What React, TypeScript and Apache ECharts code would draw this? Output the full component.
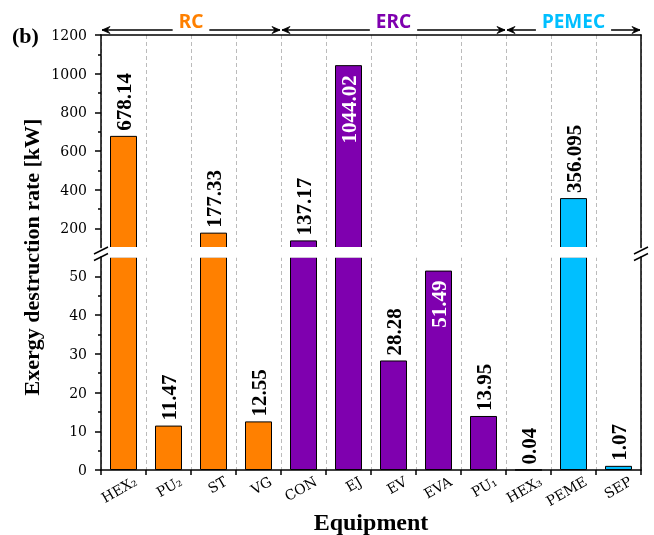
import React, { useEffect, useRef } from "react";
import * as echarts from "echarts";

// ---- data ----
const categories = ["HEX₂", "PU₂", "ST", "VG", "CON", "EJ", "EV", "EVA", "PU₁", "HEX₃", "PEME", "SEP"];
const values = [678.14, 11.47, 177.33, 12.55, 137.17, 1044.02, 28.28, 51.49, 13.95, 0.04, 356.095, 1.07];
const valueLabels = ["678.14", "11.47", "177.33", "12.55", "137.17", "1044.02", "28.28", "51.49", "13.95", "0.04", "356.095", "1.07"];
const groupNames = ["RC", "ERC", "PEMEC"];
const groupStart = [0, 4, 9];
const groupEnd = [4, 9, 12];
const groupColors = ["#FF8000", "#7F00AF", "#00BFFF"];
const lowerTicks = [0, 10, 20, 30, 40, 50];
const lowerMinorTicks = [5, 15, 25, 35, 45];
const upperTicks = [200, 400, 600, 800, 1000, 1200];
const upperMinorTicks = [300, 500, 700, 900, 1100];
const LOWER_MIN = 0, LOWER_MAX = 55, UPPER_MIN = 100, UPPER_MAX = 1200;

// ---- layout ----
const W = 654, H = 535;
const PL = 101, PR = 641;
const TOP = 35, UPPER_BOTTOM = 247.6, LOWER_TOP = 257, BOTTOM = 470;
const CAT_W = (PR - PL) / categories.length;
const SERIF = "'Liberation Serif', 'DejaVu Serif', serif";
const DSERIF = "'DejaVu Serif', serif";

const groupOf = (i: number) => groupStart.findIndex((s, g) => i >= s && i < groupEnd[g]);

const baseLabel = {
  show: true,
  rotate: 90,
  verticalAlign: "middle",
  fontSize: 21,
  fontWeight: "bold",
  fontFamily: SERIF,
};
const topLabel = (i: number) => ({ ...baseLabel, position: "top", align: "left", distance: 5, color: "#000", formatter: () => valueLabels[i] });
const insideLabel = (i: number) => ({ ...baseLabel, position: "insideTop", align: "right", distance: 10, color: "#fff", formatter: () => valueLabels[i] });

export default function App() {
  const ref = useRef<HTMLDivElement>(null);
  useEffect(() => {
    document.body.style.margin = "0";
    const chart = echarts.init(ref.current!, null, { renderer: "svg" });

    const item = (v: number, i: number, label: any) => ({
      value: v,
      itemStyle: { color: groupColors[groupOf(i)], borderColor: "#000", borderWidth: 1 },
      label,
    });
    const lowerData = values.map((v, i) =>
      item(v, i, v <= LOWER_MAX ? (v > LOWER_MAX * 0.85 ? insideLabel(i) : topLabel(i)) : { show: false })
    );
    const upperData = values.map((v, i) =>
      v > UPPER_MIN ? item(v, i, v > UPPER_MAX * 0.8 ? insideLabel(i) : topLabel(i)) : { value: "-" }
    );

    const axisLineStyle = { color: "#000", width: 1.5 };
    const splitDash = { show: true, interval: 0, lineStyle: { color: "#bbb", type: [4, 3], width: 1 } };
    const tickLabel = { fontSize: 14, color: "#000", fontFamily: DSERIF, margin: 14 };

    const graphics: any[] = [];
    // white break gap
    graphics.push({ type: "rect", z: 100, shape: { x: PL + 1, y: UPPER_BOTTOM - 0.6, width: PR - PL - 2, height: LOWER_TOP - UPPER_BOTTOM + 1.3 }, style: { fill: "#fff" } });
    // break marks
    [PL, PR].forEach((ax) => {
      graphics.push({ type: "line", z: 101, shape: { x1: ax - 7, y1: 254, x2: ax + 7, y2: 247 }, style: { stroke: "#000", lineWidth: 1.5 } });
      graphics.push({ type: "line", z: 101, shape: { x1: ax - 7, y1: 260.5, x2: ax + 7, y2: 253.5 }, style: { stroke: "#000", lineWidth: 1.5 } });
    });
    // group arrows
    const AY = 30;
    groupNames.forEach((name, g) => {
      const x0 = PL + groupStart[g] * CAT_W;
      const x1 = PL + groupEnd[g] * CAT_W;
      const st = { stroke: "#000", lineWidth: 1.3, fill: null };
      graphics.push({ type: "line", z: 10, shape: { x1: x0 + 1, y1: AY, x2: x1 - 1, y2: AY }, style: st });
      graphics.push({ type: "polygon", z: 10, shape: { points: [[x0 + 9, AY - 3.5], [x0 + 1, AY], [x0 + 9, AY + 3.5], [x0 + 6, AY]] }, style: { fill: "#000", stroke: "#000", lineWidth: 0.8 } });
      graphics.push({ type: "polygon", z: 10, shape: { points: [[x1 - 9, AY - 3.5], [x1 - 1, AY], [x1 - 9, AY + 3.5], [x1 - 6, AY]] }, style: { fill: "#000", stroke: "#000", lineWidth: 0.8 } });
      graphics.push({
        type: "text", z: 20, x: (x0 + x1) / 2, y: 21,
        style: {
          text: name, fill: groupColors[g], font: "bold 19px 'Noto Sans', sans-serif",
          align: "center", verticalAlign: "middle", textAlign: "center", textVerticalAlign: "middle",
          backgroundColor: "#fff", padding: [0, 6, 4, 6], lineHeight: 22,
        },
      });
    });
    graphics.push({ type: "text", x: 12, y: 35, style: { text: "(b)", fill: "#000", font: `bold 22px ${SERIF}`, align: "left", verticalAlign: "middle", textAlign: "left", textVerticalAlign: "middle" } });
    graphics.push({ type: "text", x: 31, y: 257, rotation: Math.PI / 2, style: { text: "Exergy destruction rate [kW]", fill: "#000", font: `bold 22px ${SERIF}`, align: "center", verticalAlign: "middle", textAlign: "center", textVerticalAlign: "middle" } });
    graphics.push({ type: "text", x: (PL + PR) / 2, y: 522, style: { text: "Equipment", fill: "#000", font: `bold 24px ${SERIF}`, align: "center", verticalAlign: "middle", textAlign: "center", textVerticalAlign: "middle" } });

    const option: any = {
      animation: false,
      textStyle: { fontFamily: SERIF },
      grid: [
        { left: PL, right: W - PR, top: LOWER_TOP, bottom: H - BOTTOM },
        { left: PL, right: W - PR, top: TOP, bottom: H - UPPER_BOTTOM },
        { left: PL + 12, right: W - PR - 12, top: LOWER_TOP, bottom: H - BOTTOM },
      ],
      xAxis: [
        {
          type: "category", gridIndex: 0, data: categories,
          axisLine: { show: true, onZero: false, lineStyle: axisLineStyle },
          axisTick: { show: true, interval: 0, length: 5, lineStyle: axisLineStyle },
          axisLabel: { show: false }, splitLine: splitDash,
        },
        {
          type: "category", gridIndex: 1, position: "top", data: categories,
          axisLine: { show: true, onZero: false, lineStyle: axisLineStyle },
          axisTick: { show: false }, axisLabel: { show: false }, splitLine: splitDash,
        },
        {
          type: "category", gridIndex: 2, data: categories,
          axisLine: { show: false }, axisTick: { show: false }, splitLine: { show: false },
          axisLabel: { interval: 0, rotate: 30, margin: 10, fontSize: 14, color: "#000", fontFamily: DSERIF },
        },
      ],
      yAxis: [
        {
          type: "value", gridIndex: 0, position: "left", min: LOWER_MIN, max: LOWER_MAX, interval: 10,
          axisLine: { show: true, lineStyle: axisLineStyle },
          axisTick: { show: true, length: 6, customValues: lowerTicks, lineStyle: axisLineStyle },
          axisLabel: { ...tickLabel, customValues: lowerTicks, formatter: (v: number) => (lowerTicks.includes(v) ? String(v) : "") },
          splitLine: { show: false },
        },
        {
          type: "value", gridIndex: 0, position: "left", min: LOWER_MIN, max: LOWER_MAX, interval: 10,
          axisLine: { show: false }, axisLabel: { show: false }, splitLine: { show: false },
          axisTick: { show: true, length: 3, customValues: lowerMinorTicks, lineStyle: axisLineStyle },
        },
        {
          type: "value", gridIndex: 0, position: "right", min: LOWER_MIN, max: LOWER_MAX, interval: 10,
          axisLine: { show: true, lineStyle: axisLineStyle }, axisTick: { show: false }, axisLabel: { show: false }, splitLine: { show: false },
        },
        {
          type: "value", gridIndex: 1, position: "left", min: UPPER_MIN, max: UPPER_MAX, interval: 100,
          axisLine: { show: true, lineStyle: axisLineStyle },
          axisTick: { show: true, length: 6, customValues: upperTicks, lineStyle: axisLineStyle },
          axisLabel: { ...tickLabel, customValues: upperTicks, formatter: (v: number) => (upperTicks.includes(v) ? String(v) : "") },
          splitLine: { show: false },
        },
        {
          type: "value", gridIndex: 1, position: "left", min: UPPER_MIN, max: UPPER_MAX, interval: 100,
          axisLine: { show: false }, axisLabel: { show: false }, splitLine: { show: false },
          axisTick: { show: true, length: 3, customValues: upperMinorTicks, lineStyle: axisLineStyle },
        },
        {
          type: "value", gridIndex: 1, position: "right", min: UPPER_MIN, max: UPPER_MAX, interval: 100,
          axisLine: { show: true, lineStyle: axisLineStyle }, axisTick: { show: false }, axisLabel: { show: false }, splitLine: { show: false },
        },
        { type: "value", gridIndex: 2, show: false, min: LOWER_MIN, max: LOWER_MAX },
      ],
      series: [
        { type: "bar", xAxisIndex: 0, yAxisIndex: 0, barWidth: 27, data: lowerData, clip: true },
        { type: "bar", xAxisIndex: 1, yAxisIndex: 3, barWidth: 27, data: upperData, clip: true },
      ],
      graphic: graphics,
    };
    chart.setOption(option);
    return () => chart.dispose();
  }, []);
  return <div ref={ref} style={{ position: "fixed", left: 0, top: 0, width: W, height: H }} />;
}
